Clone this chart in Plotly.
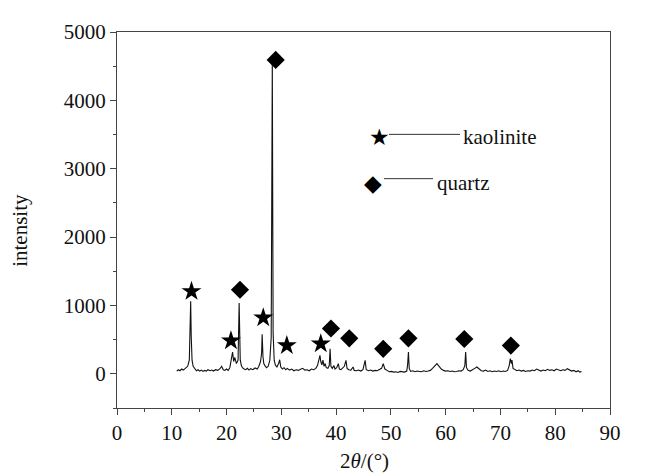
import plotly.graph_objects as go

# XRD pattern (2theta in degrees, intensity)
two_theta = [10.9, 11.2, 11.5, 11.8, 12.1, 12.5, 12.9, 13.2, 13.35, 13.45, 13.55, 13.7, 13.9, 14.2, 14.5, 14.8,
             15.1, 15.4, 15.7, 16.0, 16.3, 16.6, 17.0, 17.3, 17.6, 18.0, 18.4, 18.8, 19.1, 19.4, 19.7, 20.0,
             20.3, 20.6, 20.9, 21.1, 21.3, 21.5, 21.8, 22.1, 22.3, 22.5, 22.7, 22.9, 23.2, 23.5, 23.8, 24.1,
             24.4, 24.8, 25.2, 25.6, 25.9, 26.2, 26.4, 26.5, 26.65, 26.8, 27.0, 27.3, 27.6, 27.9, 28.15, 28.35,
             28.5, 28.7, 28.9, 29.2, 29.5, 29.7, 29.9, 30.2, 30.5, 30.8, 31.1, 31.5, 31.9, 32.3, 32.7, 33.1,
             33.5, 33.9, 34.3, 34.7, 35.1, 35.5, 35.9, 36.3, 36.6, 36.9, 37.05, 37.2, 37.4, 37.6, 37.8, 38.0,
             38.2, 38.5, 38.75, 38.9, 39.05, 39.3, 39.6, 39.8, 40.1, 40.4, 40.6, 40.9, 41.2, 41.5, 41.8, 42.0,
             42.3, 42.7, 43.1, 43.3, 43.7, 44.1, 44.5, 44.9, 45.3, 45.5, 45.9, 46.3, 46.7, 47.1, 47.5, 47.9,
             48.3, 48.6, 48.9, 49.3, 49.7, 50.1, 50.5, 50.9, 51.3, 51.7, 52.1, 52.5, 52.9, 53.05, 53.2, 53.35,
             53.6, 54.0, 54.4, 54.8, 55.2, 55.6, 56.0, 56.4, 56.8, 57.2, 57.6, 58.0, 58.4, 58.8, 59.2, 59.6,
             60.0, 60.4, 60.8, 61.2, 61.6, 62.0, 62.4, 62.8, 63.2, 63.5, 63.65, 63.8, 64.1, 64.5, 64.9, 65.3,
             65.7, 66.1, 66.5, 66.9, 67.3, 67.7, 68.1, 68.5, 68.9, 69.3, 69.7, 70.1, 70.5, 70.9, 71.3, 71.6,
             71.8, 72.0, 72.1, 72.3, 72.6, 73.0, 73.4, 73.8, 74.2, 74.6, 75.0, 75.4, 75.8, 76.2, 76.6, 77.0,
             77.4, 77.8, 78.2, 78.6, 79.0, 79.4, 79.8, 80.2, 80.6, 81.0, 81.4, 81.8, 82.2, 82.6, 83.0, 83.4,
             83.8, 84.2, 84.5, 84.8]
intensity = [40, 60, 45, 70, 55, 80, 110, 200, 600, 1060, 550, 200, 110, 70, 45, 60,
             40, 55, 35, 50, 40, 60, 45, 55, 40, 60, 50, 75, 110, 60, 50, 70,
             50, 90, 200, 317, 180, 240, 150, 200, 1037, 200, 120, 90, 70, 60, 80, 55,
             75, 60, 85, 70, 110, 180, 300, 580, 250, 150, 120, 90, 110, 200, 530, 4570,
             600, 200, 130, 100, 150, 206, 100, 70, 90, 60, 80, 55, 70, 45, 60, 50,
             65, 80, 55, 60, 45, 70, 60, 80, 120, 220, 269, 180, 130, 200, 110, 150,
             90, 80, 120, 365, 110, 80, 120, 70, 90, 148, 70, 60, 80, 110, 197, 80,
             60, 55, 100, 50, 45, 55, 40, 60, 197, 60, 45, 55, 40, 50, 45, 60,
             80, 148, 70, 50, 30, 35, 25, 30, 20, 35, 30, 25, 40, 130, 317, 80,
             35, 45, 30, 40, 35, 30, 45, 35, 40, 50, 80, 110, 148, 110, 70, 50,
             40, 45, 35, 40, 30, 35, 45, 40, 60, 120, 317, 90, 50, 40, 55, 80,
             100, 70, 45, 40, 55, 35, 45, 30, 40, 35, 45, 30, 40, 35, 50, 120,
             221, 150, 200, 80, 60, 45, 55, 40, 50, 35, 45, 40, 55, 45, 70, 50,
             40, 55, 45, 65, 50, 60, 45, 70, 55, 45, 60, 50, 75, 55, 40, 50,
             30, 45, 25, 35]

# Phase markers
kaolinite_x = [13.6, 20.8, 26.7, 31.0, 37.2]
kaolinite_y = [1206, 485, 820, 413, 440]
quartz_x = [22.45, 28.97, 39.06, 42.4, 48.6, 53.2, 63.4, 71.9]
quartz_y = [1230, 4592, 663, 519, 365, 519, 509, 413]

x_ticks = [0, 10, 20, 30, 40, 50, 60, 70, 80, 90]
y_ticks = [0, 1000, 2000, 3000, 4000, 5000]

FONT = "Liberation Serif"
AX = "#444444"
TXT = "#111111"

fig = go.Figure()
fig.add_trace(go.Scatter(x=two_theta, y=intensity, mode="lines",
                         line=dict(color="#111111", width=1.1), showlegend=False, hoverinfo="skip"))
fig.add_trace(go.Scatter(x=kaolinite_x, y=kaolinite_y, mode="markers", name="kaolinite",
                         marker=dict(symbol="star", size=15, color="black", line=dict(width=0)),
                         showlegend=False))
fig.add_trace(go.Scatter(x=quartz_x, y=quartz_y, mode="markers", name="quartz",
                         marker=dict(symbol="diamond", size=14, color="black", line=dict(width=0)),
                         showlegend=False))

# page offset (body margin) compensation
OFF = 8
W, H = 644, 468
L, R, T, B = 109, 42, 18, 68
pw, ph = W - L - R, H - T - B


def px(x):
    return (x - OFF - L) / pw


def py(y):
    return (H - B - (y - OFF)) / ph


anns = []
shapes = []
# legend: kaolinite
anns.append(dict(x=px(379), y=py(133), xref="paper", yref="paper", text="★", showarrow=False,
                 font=dict(family="DejaVu Sans", size=23, color="black"), xanchor="center", yanchor="middle"))
shapes.append(dict(type="line", xref="paper", yref="paper", x0=px(389), x1=px(460), y0=py(130), y1=py(130),
                   line=dict(color="#333333", width=1)))
anns.append(dict(x=px(461), y=py(133), xref="paper", yref="paper", text="kaolinite", showarrow=False,
                 font=dict(family=FONT, size=21, color=TXT), xanchor="left", yanchor="middle"))
# legend: quartz
anns.append(dict(x=px(373), y=py(179), xref="paper", yref="paper", text="◆", showarrow=False,
                 font=dict(family="DejaVu Sans", size=23, color="black"), xanchor="center", yanchor="middle"))
shapes.append(dict(type="line", xref="paper", yref="paper", x0=px(384), x1=px(433), y0=py(175), y1=py(175),
                   line=dict(color="#333333", width=1)))
anns.append(dict(x=px(435), y=py(179), xref="paper", yref="paper", text="quartz", showarrow=False,
                 font=dict(family=FONT, size=21, color=TXT), xanchor="left", yanchor="middle"))
# axis titles
anns.append(dict(x=px(364), y=py(462), xref="paper", yref="paper", text="2<i>θ</i>/(°)", showarrow=False,
                 font=dict(family=FONT, size=21, color=TXT), xanchor="center", yanchor="middle"))
anns.append(dict(x=px(20), y=py(228), xref="paper", yref="paper", text="intensity", showarrow=False,
                 textangle=-90, font=dict(family=FONT, size=21, color=TXT),
                 xanchor="center", yanchor="middle"))

fig.update_layout(
    width=W, height=H,
    margin=dict(l=L, r=R, t=T, b=B),
    paper_bgcolor="white", plot_bgcolor="white",
    showlegend=False,
    annotations=anns, shapes=shapes,
    font=dict(family=FONT, size=21, color=TXT),
)
fig.update_xaxes(range=[0, 90], tickvals=x_ticks, ticktext=[str(v) for v in x_ticks],
                 showgrid=False, zeroline=False, showline=True, linecolor=AX, linewidth=1, mirror=True,
                 ticks="outside", ticklen=6, tickcolor=AX, tickwidth=1,
                 minor=dict(dtick=5, ticks="outside", ticklen=3, tickcolor=AX, tick0=0),
                 tickfont=dict(family=FONT, size=21, color=TXT))
fig.update_yaxes(range=[-500, 5000], tickvals=y_ticks, ticktext=[str(v) for v in y_ticks],
                 showgrid=False, zeroline=False, showline=True, linecolor=AX, linewidth=1, mirror=True,
                 ticks="outside", ticklen=6, tickcolor=AX, tickwidth=1,
                 minor=dict(dtick=500, ticks="outside", ticklen=3, tickcolor=AX, tick0=0),
                 tickfont=dict(family=FONT, size=21, color=TXT))

fig.write_html("out.html")
